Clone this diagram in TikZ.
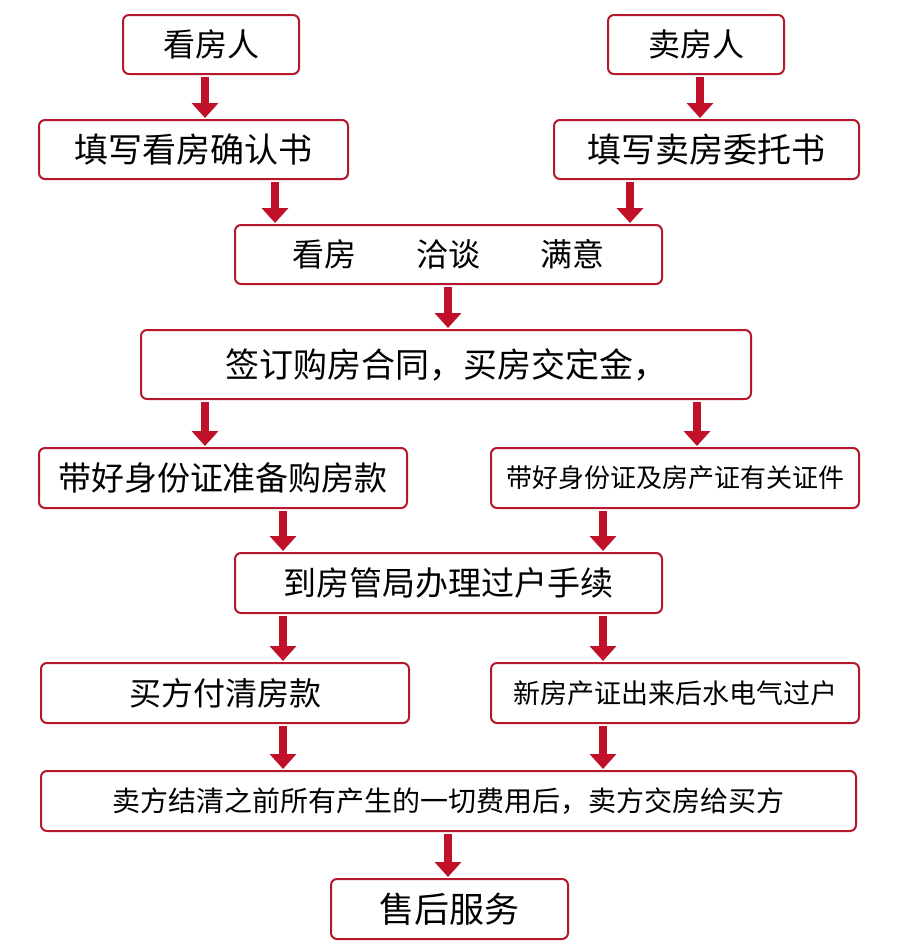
\documentclass[tikz,border=0pt]{standalone}
\usepackage{fontspec}
\setmainfont{Noto Sans CJK SC}
\usetikzlibrary{arrows.meta}
\definecolor{bred}{HTML}{B5182B}
\definecolor{ared}{HTML}{C0102A}
\tikzset{
  box/.style={draw=bred,line width=2pt,rounded corners=6pt,fill=white,anchor=north west,inner sep=0pt},
  arr/.style={draw=ared,line width=8pt,-{Triangle[width=26pt,length=15pt]},shorten >=1pt,shorten <=2pt}
}
\newcommand{\bx}[7]{% name x1 y1 x2 y2 size text
  \node[box,minimum width={(#4-#2)*1pt},minimum height={(#5-#3)*1pt},font=\fontsize{#6}{#6}\selectfont] (#1) at (#2,#3) {#7};}
\begin{document}
\begin{tikzpicture}[x=1pt,y=-1pt]
\useasboundingbox (0,0) rectangle (900,951);
\bx{a}{122}{14}{298}{73}{32}{看房人}
\bx{b}{607}{14}{783}{73}{32}{卖房人}
\bx{c}{38}{119}{347}{178}{34}{填写看房确认书}
\bx{d}{553}{119}{858}{178}{34}{填写卖房委托书}
\bx{e}{234}{224}{661}{283}{32}{看房\hspace{60pt}洽谈\hspace{60pt}满意}
\bx{f}{140}{329}{750}{398}{34}{签订购房合同，买房交定金，}
\bx{g}{38}{447}{406}{507}{33}{带好身份证准备购房款}
\bx{h}{490}{447}{858}{507}{26}{带好身份证及房产证有关证件}
\bx{i}{234}{552}{661}{612}{33}{到房管局办理过户手续}
\bx{j}{40}{662}{408}{722}{32}{买方付清房款}
\bx{k}{490}{662}{858}{722}{27}{新房产证出来后水电气过户}
\bx{l}{40}{770}{855}{830}{28}{卖方结清之前所有产生的一切费用后，卖方交房给买方}
\bx{m}{330}{878}{567}{938}{35}{售后服务}
\foreach \xx in {205,700,275,630,448,697,283,603}{\coordinate (x\xx) at (\xx,0);}
\draw[arr] (a.south -| x205) -- (c.north -| x205);
\draw[arr] (b.south -| x700) -- (d.north -| x700);
\draw[arr] (c.south -| x275) -- (e.north -| x275);
\draw[arr] (d.south -| x630) -- (e.north -| x630);
\draw[arr] (e.south -| x448) -- (f.north -| x448);
\draw[arr] (f.south -| x205) -- (g.north -| x205);
\draw[arr] (f.south -| x697) -- (h.north -| x697);
\draw[arr] (g.south -| x283) -- (i.north -| x283);
\draw[arr] (h.south -| x603) -- (i.north -| x603);
\draw[arr] (i.south -| x283) -- (j.north -| x283);
\draw[arr] (i.south -| x603) -- (k.north -| x603);
\draw[arr] (j.south -| x283) -- (l.north -| x283);
\draw[arr] (k.south -| x603) -- (l.north -| x603);
\draw[arr] (l.south -| x448) -- (m.north -| x448);
\end{tikzpicture}
\end{document}
